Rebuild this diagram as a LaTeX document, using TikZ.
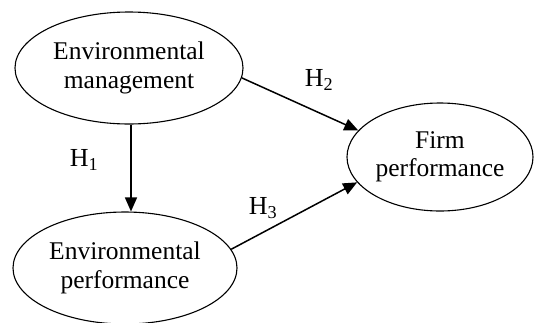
\documentclass[tikz,border=0pt]{standalone}
\usepackage{fontspec}
\setmainfont{Liberation Serif}
\usetikzlibrary{shapes.geometric,arrows.meta}
\begin{document}
\begin{tikzpicture}[x=1pt,y=-1pt,
  oval/.style={ellipse,draw,line width=1.1pt,inner sep=0pt,align=center,font=\fontsize{25.5}{28.5}\selectfont},
  link/.style={line width=1.5pt,-{Triangle[length=14pt,width=12pt]}},
  hlabel/.style={font=\fontsize{26}{28}\selectfont,inner sep=0pt}]
\useasboundingbox (0,0) rectangle (541,322);
\node[oval,minimum width=228pt,minimum height=112pt] (e1) at (129,68) {Environmental\\management};
\node[oval,minimum width=224pt,minimum height=112pt] (e2) at (125,268) {Environmental\\performance};
\node[oval,minimum width=186pt,minimum height=108pt] (e3) at (440,157) {Firm\\performance};
\draw[link] ([xshift=2pt]e1.south) -- ([xshift=2pt]e1.south |- e2.north);
\draw[link] (e1.-5) -- (e3.162);
\draw[link] (e2.10) -- (e3.197);
\node[hlabel] (h1) at (84,160) {H\textsubscript{1}};
\node[hlabel] (h2) at (319,80) {H\textsubscript{2}};
\node[hlabel] (h3) at (263,208) {H\textsubscript{3}};
\end{tikzpicture}
\end{document}
